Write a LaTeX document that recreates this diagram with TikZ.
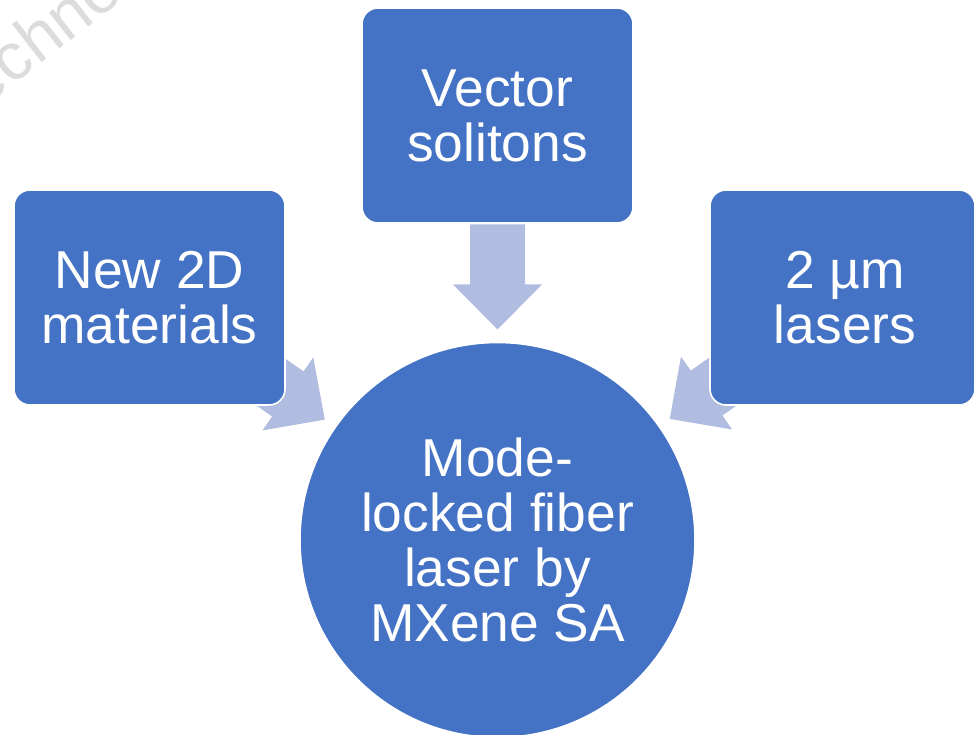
\documentclass[tikz,border=0pt]{standalone}
\usepackage{fontspec}
\setmainfont{Liberation Sans}
\usetikzlibrary{calc}

\definecolor{boxblue}{HTML}{4472C4}
\definecolor{arrowblue}{HTML}{B0BDE0}
\definecolor{markgray}{HTML}{DCDCDC}

\pgfdeclarelayer{bg}
\pgfsetlayers{bg,main}

\newcommand\bigfont{\fontsize{40}{41.25}\selectfont}

\tikzset{
  topic/.style={rectangle, rounded corners=12pt, fill=boxblue, draw=white,
    line width=1.2pt, minimum width=203.25pt, minimum height=161.25pt,
    inner sep=0pt, text=white, align=center, font=\bigfont},
  hub/.style={circle, fill=boxblue, draw=white, line width=1.2pt,
    minimum size=296.25pt, inner sep=0pt, text=white, align=center, font=\bigfont},
  feed/.style={fill=arrowblue},
  stamp/.style={text=markgray, rotate=38, anchor=base west, inner sep=0pt,
    font=\fontsize{50}{50}\selectfont},
}

% block arrow from node #1 towards node #2, tip stopping just short of #2
\newcommand\feedarrow[2]{%
  \fill[feed] let \p1=($(#2.center)-(#1.center)$),
                  \n1={atan2(\y1,\x1)},
                  \p2=($(#2.center)!157.9pt!(#1.center)$) in
    [shift={(\p2)}, rotate=\n1]
    (0,0) -- (-45,44.5) -- (-45,27.5) -- (-105,27.5) -- (-105,-27.5)
    -- (-45,-27.5) -- (-45,-44.5) -- cycle;}

\begin{document}
\begin{tikzpicture}[x=0.75pt, y=-0.75pt]
  \useasboundingbox (0,0) rectangle (975,735);
  \clip (0,0) rectangle (975,735);

  % central circle and the three feeding topics
  \node[hub] (hub) at (497.5,540) {Mode-\\locked fiber\\laser by\\MXene SA};
  \node[topic] (vec) at (497.5,115.5) {Vector\\solitons};
  \node[topic] (mat) at (149.5,297.5) {New 2D\\materials};
  \node[topic, minimum width=198.75pt] (two) at (842.5,297.5) {\hspace*{3.75pt}2 µm\\\hspace*{3.75pt}lasers};

  \begin{pgfonlayer}{bg}
    \node[stamp] (stamp) at (-44,130) {Technology};
    \feedarrow{vec}{hub}
    \feedarrow{mat}{hub}
    \feedarrow{two}{hub}
  \end{pgfonlayer}
\end{tikzpicture}
\end{document}
